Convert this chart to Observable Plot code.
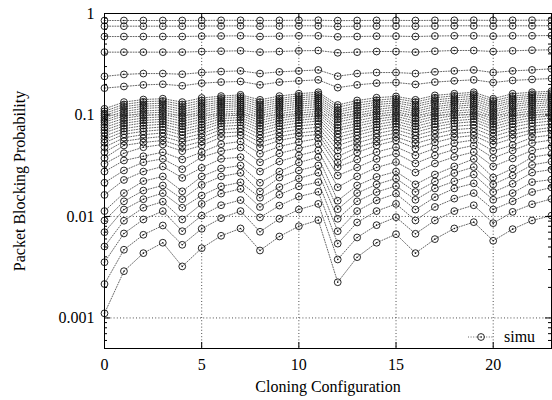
<!DOCTYPE html>
<html>
<head>
<meta charset="utf-8">
<script src="https://cdn.jsdelivr.net/npm/d3@7"></script>
<script src="https://cdn.jsdelivr.net/npm/@observablehq/plot@0.6"></script>
<style>
  html, body { margin: 0; padding: 0; background: #fff; }
  #chart svg { display: block; }
</style>
</head>
<body>
<div id="chart"></div>
<script>
// Cloning configurations on the x axis
const cloningConfig = [0, 1, 2, 3, 4, 5, 6, 7, 8, 9, 10, 11, 12, 13, 14, 15, 16, 17, 18, 19, 20, 21, 22, 23];

// Light-load curves, one array per curve (value for each cloning configuration)
const lowLoadCurves = [
  [0.00111, 0.00289, 0.00435, 0.00551, 0.00322, 0.00487, 0.00645, 0.00762, 0.00462, 0.00635, 0.00802, 0.0092, 0.00225, 0.00397, 0.00551, 0.00669, 0.00435, 0.00598, 0.00762, 0.00879, 0.00576, 0.0075, 0.00913, 0.0102],
  [0.00216, 0.0047, 0.0066, 0.00815, 0.00526, 0.00756, 0.00962, 0.0113, 0.00707, 0.00949, 0.0117, 0.0133, 0.00377, 0.00621, 0.00821, 0.00984, 0.00675, 0.00913, 0.0113, 0.0129, 0.00859, 0.0111, 0.0132, 0.0149],
  [0.00354, 0.0068, 0.00934, 0.0113, 0.00716, 0.0102, 0.0129, 0.0145, 0.00978, 0.0128, 0.0157, 0.0175, 0.0054, 0.00873, 0.0113, 0.0133, 0.00913, 0.0124, 0.015, 0.017, 0.0117, 0.0141, 0.0174, 0.0193],
  [0.00506, 0.00907, 0.0122, 0.014, 0.00934, 0.0133, 0.0168, 0.0187, 0.0124, 0.0164, 0.0198, 0.0218, 0.00716, 0.0113, 0.0144, 0.0168, 0.0117, 0.0155, 0.0189, 0.0212, 0.0146, 0.017, 0.0218, 0.0231],
  [0.007, 0.0117, 0.0148, 0.017, 0.0122, 0.0161, 0.0198, 0.0217, 0.0153, 0.0195, 0.0237, 0.027, 0.00949, 0.0141, 0.0174, 0.02, 0.0146, 0.0189, 0.0222, 0.0259, 0.0174, 0.021, 0.0271, 0.029],
  [0.00913, 0.0141, 0.018, 0.0202, 0.0148, 0.0205, 0.0248, 0.0269, 0.0176, 0.0242, 0.0284, 0.0318, 0.0118, 0.017, 0.0207, 0.0237, 0.0174, 0.0221, 0.0268, 0.0307, 0.0207, 0.0253, 0.0322, 0.0348],
  [0.0113, 0.017, 0.0223, 0.0248, 0.0177, 0.0248, 0.0297, 0.0318, 0.0215, 0.0277, 0.034, 0.0384, 0.0143, 0.0202, 0.0245, 0.0277, 0.0207, 0.0259, 0.0311, 0.0369, 0.0242, 0.0297, 0.0384, 0.0413],
  [0.0163, 0.0229, 0.0277, 0.0311, 0.024, 0.0302, 0.037, 0.0384, 0.0277, 0.0348, 0.0399, 0.0447, 0.0194, 0.0248, 0.0304, 0.0344, 0.0271, 0.0333, 0.0386, 0.0432, 0.0311, 0.0373, 0.0447, 0.0484],
  [0.0215, 0.0284, 0.0342, 0.037, 0.0292, 0.0384, 0.044, 0.0478, 0.0342, 0.0418, 0.0468, 0.052, 0.0253, 0.0304, 0.0369, 0.0418, 0.0333, 0.0399, 0.0457, 0.0501, 0.0377, 0.0447, 0.053, 0.0567],
  [0.0277, 0.0356, 0.0392, 0.043, 0.0364, 0.043, 0.0516, 0.0548, 0.0415, 0.0489, 0.0542, 0.0587, 0.0306, 0.0364, 0.0432, 0.0484, 0.0399, 0.0468, 0.053, 0.0567, 0.0442, 0.0506, 0.06, 0.0635],
  [0.033, 0.042, 0.0481, 0.0512, 0.044, 0.0501, 0.0604, 0.0628, 0.0481, 0.0561, 0.0614, 0.0643, 0.0342, 0.0427, 0.0501, 0.0561, 0.0468, 0.0536, 0.06, 0.0628, 0.0512, 0.0587, 0.0665, 0.0704]
];

// Medium-load curves, stored per cloning configuration (row), lightest to heaviest curve
const midLoadByConfig = [
  [0.0376, 0.043, 0.0481, 0.0532, 0.0574, 0.0618, 0.0667, 0.0709, 0.0753, 0.080, 0.085, 0.0889, 0.0939, 0.0989, 0.1034, 0.1088, 0.115],
  [0.0501, 0.0551, 0.0597, 0.0646, 0.069, 0.0734, 0.0781, 0.0827, 0.0875, 0.0926, 0.0978, 0.103, 0.1083, 0.1142, 0.1207, 0.127, 0.134],
  [0.0536, 0.0588, 0.064, 0.069, 0.0736, 0.0785, 0.0835, 0.0883, 0.0934, 0.0989, 0.1041, 0.1095, 0.1157, 0.122, 0.128, 0.135, 0.142],
  [0.0561, 0.0614, 0.0665, 0.0717, 0.0764, 0.0812, 0.0861, 0.0909, 0.096, 0.1013, 0.1066, 0.112, 0.1187, 0.1243, 0.131, 0.1375, 0.1447],
  [0.0489, 0.054, 0.0587, 0.0634, 0.0678, 0.0725, 0.0773, 0.0818, 0.0867, 0.092, 0.0971, 0.1025, 0.1077, 0.1139, 0.1205, 0.127, 0.134],
  [0.0548, 0.0603, 0.0654, 0.071, 0.0755, 0.0804, 0.0857, 0.0907, 0.0958, 0.1013, 0.1069, 0.1125, 0.1192, 0.1252, 0.132, 0.139, 0.147],
  [0.0665, 0.072, 0.0774, 0.0825, 0.0873, 0.0922, 0.0971, 0.1018, 0.1066, 0.112, 0.118, 0.123, 0.1285, 0.1342, 0.14, 0.147, 0.1535],
  [0.068, 0.0738, 0.0792, 0.0846, 0.0895, 0.0945, 0.0998, 0.1045, 0.1097, 0.1154, 0.1212, 0.1265, 0.1325, 0.1384, 0.145, 0.1515, 0.158],
  [0.0536, 0.0588, 0.0638, 0.0688, 0.0734, 0.0783, 0.0831, 0.0879, 0.093, 0.0985, 0.1036, 0.1091, 0.1148, 0.1212, 0.1275, 0.1342, 0.141],
  [0.0614, 0.067, 0.0725, 0.0778, 0.0827, 0.0877, 0.093, 0.0979, 0.1031, 0.1088, 0.1145, 0.1205, 0.1265, 0.1327, 0.139, 0.1454, 0.1535],
  [0.0665, 0.0725, 0.0781, 0.0836, 0.0887, 0.0941, 0.0995, 0.1045, 0.11, 0.1163, 0.1222, 0.128, 0.134, 0.1405, 0.1473, 0.1545, 0.162],
  [0.0696, 0.0757, 0.0816, 0.0873, 0.0926, 0.0979, 0.1036, 0.1088, 0.1148, 0.121, 0.127, 0.133, 0.1393, 0.146, 0.153, 0.16, 0.1675],
  [0.039, 0.0447, 0.0501, 0.0555, 0.06, 0.065, 0.0704, 0.0744, 0.0797, 0.0853, 0.0903, 0.0955, 0.1011, 0.1068, 0.1118, 0.119, 0.1255],
  [0.0478, 0.053, 0.058, 0.063, 0.0677, 0.0725, 0.0776, 0.0825, 0.0877, 0.0934, 0.0991, 0.1045, 0.1105, 0.1173, 0.124, 0.1315, 0.139],
  [0.0548, 0.0603, 0.0655, 0.071, 0.0757, 0.0806, 0.0859, 0.0909, 0.0962, 0.102, 0.1075, 0.1133, 0.12, 0.1265, 0.1333, 0.14, 0.148],
  [0.0607, 0.0663, 0.0717, 0.0769, 0.0819, 0.0869, 0.092, 0.0971, 0.1022, 0.1077, 0.1133, 0.1195, 0.1252, 0.1318, 0.138, 0.1453, 0.1525],
  [0.0524, 0.0577, 0.0627, 0.0677, 0.0723, 0.0771, 0.0821, 0.0869, 0.0922, 0.0976, 0.103, 0.1083, 0.1142, 0.121, 0.1272, 0.1342, 0.141],
  [0.0594, 0.0651, 0.0707, 0.0762, 0.0812, 0.0865, 0.092, 0.0971, 0.1027, 0.1083, 0.1145, 0.1207, 0.127, 0.134, 0.1405, 0.148, 0.156],
  [0.0657, 0.0717, 0.0774, 0.0829, 0.0879, 0.0934, 0.0989, 0.1041, 0.1095, 0.1157, 0.1217, 0.1275, 0.134, 0.14, 0.1473, 0.1545, 0.162],
  [0.068, 0.0741, 0.08, 0.0859, 0.0911, 0.0966, 0.1022, 0.1075, 0.1133, 0.1202, 0.126, 0.1325, 0.1387, 0.1457, 0.153, 0.16, 0.1675],
  [0.0561, 0.0614, 0.0665, 0.0717, 0.0764, 0.0812, 0.0861, 0.0909, 0.096, 0.1013, 0.1066, 0.112, 0.1187, 0.1243, 0.131, 0.1375, 0.1447],
  [0.0643, 0.0702, 0.0759, 0.0816, 0.0867, 0.0922, 0.0976, 0.103, 0.1085, 0.1145, 0.121, 0.1267, 0.1333, 0.1397, 0.1463, 0.1535, 0.162],
  [0.0712, 0.0773, 0.0831, 0.0889, 0.0941, 0.0993, 0.1048, 0.11, 0.116, 0.122, 0.128, 0.134, 0.14, 0.147, 0.1535, 0.16, 0.1675],
  [0.0753, 0.0816, 0.0875, 0.0932, 0.0985, 0.1038, 0.1091, 0.1145, 0.1207, 0.1265, 0.1325, 0.1387, 0.1443, 0.151, 0.1575, 0.1645, 0.1717]
];

// Heavy-load curves, one array per curve
const highLoadCurves = [
  [0.184, 0.191, 0.198, 0.201, 0.194, 0.206, 0.211, 0.214, 0.198, 0.211, 0.217, 0.222, 0.186, 0.198, 0.206, 0.209, 0.2, 0.211, 0.217, 0.222, 0.209, 0.219, 0.224, 0.229],
  [0.24, 0.251, 0.256, 0.256, 0.252, 0.262, 0.268, 0.272, 0.256, 0.266, 0.272, 0.278, 0.241, 0.256, 0.262, 0.262, 0.256, 0.266, 0.272, 0.278, 0.262, 0.272, 0.278, 0.285],
  [0.416, 0.416, 0.416, 0.416, 0.416, 0.422, 0.425, 0.429, 0.416, 0.422, 0.429, 0.432, 0.41, 0.416, 0.422, 0.422, 0.416, 0.425, 0.432, 0.432, 0.422, 0.429, 0.435, 0.439],
  [0.593, 0.593, 0.593, 0.593, 0.593, 0.598, 0.6, 0.603, 0.593, 0.598, 0.603, 0.603, 0.589, 0.593, 0.598, 0.598, 0.593, 0.6, 0.603, 0.603, 0.598, 0.603, 0.603, 0.607],
  [0.75, 0.75, 0.75, 0.75, 0.75, 0.753, 0.753, 0.756, 0.75, 0.753, 0.756, 0.756, 0.746, 0.75, 0.753, 0.753, 0.75, 0.753, 0.756, 0.756, 0.753, 0.756, 0.756, 0.758],
  [0.853, 0.853, 0.853, 0.853, 0.853, 0.855, 0.856, 0.857, 0.853, 0.855, 0.857, 0.858, 0.851, 0.853, 0.855, 0.855, 0.853, 0.856, 0.857, 0.858, 0.855, 0.857, 0.858, 0.859]
];

const xTicks = [0, 5, 10, 15, 20];
const yTicks = [1, 0.1, 0.01, 0.001];
const yMinorTicks = [0.0006, 0.0007, 0.0008, 0.0009,
  0.002, 0.003, 0.004, 0.005, 0.006, 0.007, 0.008, 0.009,
  0.02, 0.03, 0.04, 0.05, 0.06, 0.07, 0.08, 0.09,
  0.2, 0.3, 0.4, 0.5, 0.6, 0.7, 0.8, 0.9];
const xLabel = "Cloning Configuration";
const yLabel = "Packet Blocking Probability";
const legendLabel = "simu";

// Tidy rows: one per (curve, configuration)
const midLoadCurves = d3.range(midLoadByConfig[0].length).map(k => midLoadByConfig.map(row => row[k]));
const curves = [...lowLoadCurves, ...midLoadCurves, ...highLoadCurves];
const points = curves.flatMap((values, curve) =>
  values.map((pb, i) => ({curve, config: cloningConfig[i], pb})));

const W = 552, H = 400, mL = 104, mR = 1, mT = 13, mB = 52;
const innerW = W - mL - mR, innerH = H - mT - mB;
const font = "'Liberation Serif', 'Times New Roman', serif";
const lineStyle = {stroke: "#555", strokeWidth: 0.9, strokeDasharray: "1,1.6"};
const gridStyle = {stroke: "#222", strokeWidth: 0.8, strokeDasharray: "1,2.2"};

const chart = Plot.plot({
  width: W,
  height: H,
  marginLeft: mL,
  marginRight: mR,
  marginTop: mT,
  marginBottom: mB,
  style: {fontFamily: font, fontSize: "16px", color: "#000", background: "#fff", overflow: "visible"},
  x: {type: "linear", domain: [0, 23]},
  y: {type: "log", domain: [0.0005, 1]},
  marks: [
    // dotted grid
    Plot.ruleX(xTicks.slice(1), gridStyle),
    Plot.ruleY(yTicks.slice(1), gridStyle),
    // curves
    Plot.line(points, {x: "config", y: "pb", z: "curve", ...lineStyle}),
    Plot.dot(points, {x: "config", y: "pb", r: 3.4, stroke: "#111", strokeWidth: 0.9, fill: "none"}),
    Plot.dot(points, {x: "config", y: "pb", r: 0.8, fill: "#111", stroke: null}),
    Plot.frame({stroke: "#000", strokeWidth: 1}),
    // inward ticks on all four sides
    Plot.ruleY(yTicks, {insetRight: innerW - 6, stroke: "#000"}),
    Plot.ruleY(yTicks, {insetLeft: innerW - 6, stroke: "#000"}),
    Plot.ruleY(yMinorTicks, {insetRight: innerW - 3, stroke: "#000"}),
    Plot.ruleY(yMinorTicks, {insetLeft: innerW - 3, stroke: "#000"}),
    Plot.ruleX(xTicks, {insetTop: innerH - 6, stroke: "#000"}),
    Plot.ruleX(xTicks, {insetBottom: innerH - 6, stroke: "#000"}),
    // tick labels
    Plot.axisX({ticks: xTicks, tickSize: 0, tickPadding: 10, label: null, tickFormat: d => String(d)}),
    Plot.axisY({ticks: yTicks, tickSize: 0, tickPadding: 10, label: null, tickFormat: d => String(d)}),
    // axis titles
    Plot.text([xLabel], {text: d => d, frameAnchor: "bottom", dy: 38, textAnchor: "middle", lineAnchor: "middle"}),
    Plot.text([yLabel], {text: d => d, frameAnchor: "left", dx: -85, rotate: -90, textAnchor: "middle", lineAnchor: "middle"})
  ]
});

// key in the lower right corner of the frame
const svg = d3.select(chart);
const key = svg.append("g").attr("transform", `translate(0,${mT + innerH - 11})`);
key.append("line")
  .attr("x1", 468).attr("x2", 494).attr("y1", 0).attr("y2", 0)
  .attr("stroke", lineStyle.stroke).attr("stroke-width", lineStyle.strokeWidth)
  .attr("stroke-dasharray", lineStyle.strokeDasharray);
key.append("circle").attr("cx", 481).attr("cy", 0).attr("r", 3.4)
  .attr("fill", "none").attr("stroke", "#111").attr("stroke-width", 0.9);
key.append("circle").attr("cx", 481).attr("cy", 0).attr("r", 0.8).attr("fill", "#111");
key.append("text").attr("x", 504).attr("y", 0).attr("dy", "0.32em")
  .attr("text-anchor", "start")
  .attr("font-family", font).attr("font-size", 16).attr("fill", "#000")
  .text(legendLabel);

document.getElementById("chart").appendChild(chart);
</script>
</body>
</html>
